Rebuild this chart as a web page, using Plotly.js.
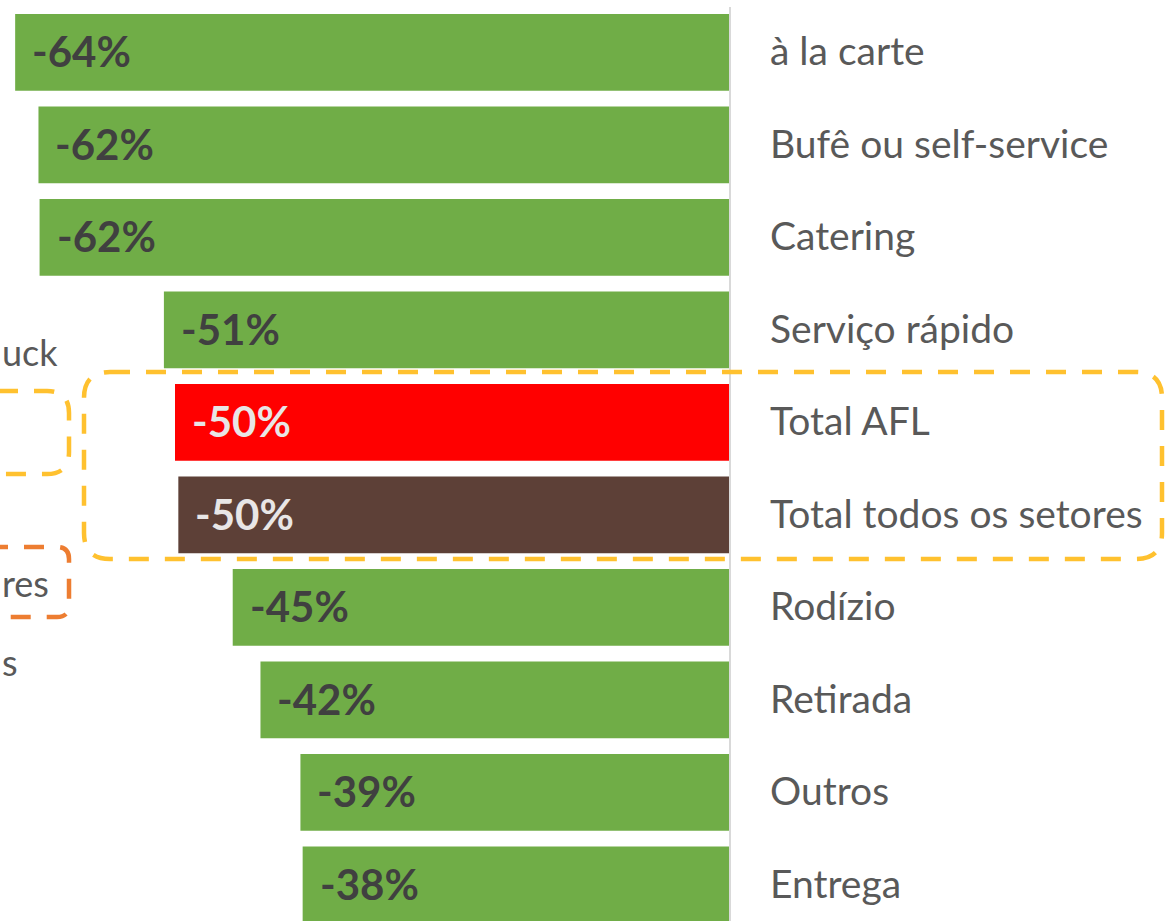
<!DOCTYPE html>
<html>
<head>
<meta charset="utf-8">
<script src="https://cdn.plot.ly/plotly-3.0.1.min.js"></script>
<style>html,body{margin:0;padding:0;background:#fff;}#chart{width:1168px;height:921px;}</style>
</head>
<body>
<div id="chart"></div>
<script>
// ---- data ----
const categories = ["à la carte","Bufê ou self-service","Catering","Serviço rápido","Total AFL","Total todos os setores","Rodízio","Retirada","Outros","Entrega"];
const values = [-64.4,-62.3,-62.2,-51.0,-50.0,-49.7,-44.8,-42.3,-38.7,-38.5];
const valueLabels = ["-64%","-62%","-62%","-51%","-50%","-50%","-45%","-42%","-39%","-38%"];
// visible fragments of the neighbouring (cropped) chart's labels
const leftLabels = ["uck","res","s"];

// ---- styles ----
const W = 1168, H = 921;
const special = {"Total AFL":"#FF0000","Total todos os setores":"#5D4037"};
const barColors = categories.map(c => special[c] || "#70AD47");
const textColors = categories.map(c => special[c] ? "#E8E6E6" : "#404040");
const FONT = "Lato, 'Open Sans', sans-serif";

const ypos = categories.map((c,i)=>i);

const trace = {
  type:"bar", orientation:"h",
  x: values, y: ypos,
  marker:{color:barColors, line:{width:0}},
  hoverinfo:"skip",
  width:0.83
};

const annotations = [];
categories.forEach((c,i)=>{
  annotations.push({x:values[i], y:i, xref:"x", yref:"y", text:"<b>"+valueLabels[i]+"</b>",
    showarrow:false, xanchor:"left", yanchor:"middle", xshift:15, yshift:1,
    font:{family:FONT, size:42, color:textColors[i]}});
  annotations.push({x:0, y:i, xref:"x", yref:"y", text:c,
    showarrow:false, xanchor:"left", yanchor:"middle", xshift:38, yshift:2,
    font:{family:FONT, size:39, color:"#595959"}});
});
// visible fragments at the cropped left edge
const leftY = [352, 583, 662];
leftLabels.forEach((t,i)=>{
  annotations.push({x:0, y:1-leftY[i]/H, xref:"paper", yref:"paper", text:t,
    showarrow:false, xanchor:"left", yanchor:"middle", xshift:1, borderpad:0,
    font:{family:FONT, size:36, color:"#595959"}});
});

function px(x){return (x/W).toFixed(5);}
function py(y){return (1-y/H).toFixed(5);}
function roundRect(x0,y0,x1,y1,r){
  return "M"+px(x0+r)+","+py(y0)+" L"+px(x1-r)+","+py(y0)+
    " Q"+px(x1)+","+py(y0)+" "+px(x1)+","+py(y0+r)+
    " L"+px(x1)+","+py(y1-r)+
    " Q"+px(x1)+","+py(y1)+" "+px(x1-r)+","+py(y1)+
    " L"+px(x0+r)+","+py(y1)+
    " Q"+px(x0)+","+py(y1)+" "+px(x0)+","+py(y1-r)+
    " L"+px(x0)+","+py(y0+r)+
    " Q"+px(x0)+","+py(y0)+" "+px(x0+r)+","+py(y0)+" Z";
}
const shapes = [
  {type:"line", xref:"x", yref:"paper", x0:0, x1:0, y0:0, y1:1-7/H, line:{color:"#D9D9D9", width:2}, layer:"above"},
  {type:"path", xref:"paper", yref:"paper", path:roundRect(84,372,1162,559,26), line:{color:"#FFC12F", width:4.5, dash:"20px,16px"}},
  {type:"path", xref:"paper", yref:"paper", path:roundRect(-60,391,69,474,22), line:{color:"#FFC12F", width:4.5, dash:"20px,16px"}},
  {type:"path", xref:"paper", yref:"paper", path:roundRect(-60,547,69,617,12), line:{color:"#ED7D31", width:4.5, dash:"20px,16px"}}
];

const k = 11.1;
const layout = {
  width:W, height:H,
  margin:{l:0,r:0,t:0,b:0, pad:0},
  paper_bgcolor:"#fff", plot_bgcolor:"#fff",
  showlegend:false,
  bargap:0.17,
  xaxis:{range:[-730/k, (W-730)/k], showgrid:false, zeroline:false, showticklabels:false, ticks:"", fixedrange:true},
  yaxis:{range:[(H-52.3)/92.5, -52.3/92.5], showgrid:false, zeroline:false, showticklabels:false, ticks:"", fixedrange:true},
  annotations: annotations,
  shapes: shapes
};

Plotly.newPlot("chart",[trace],layout,{displayModeBar:false, staticPlot:true});
</script>
</body>
</html>
